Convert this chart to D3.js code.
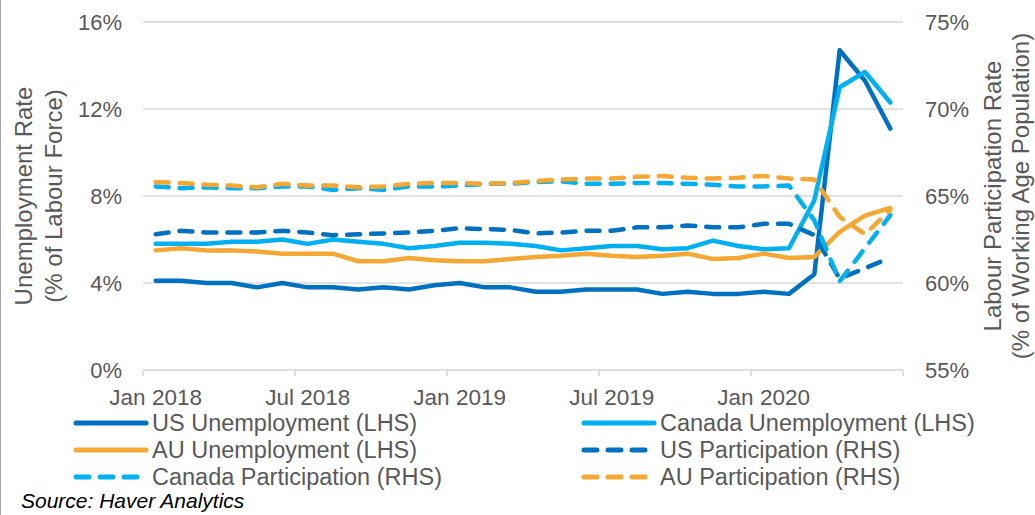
<!DOCTYPE html>
<html>
<head>
<meta charset="utf-8">
<script src="https://cdn.jsdelivr.net/npm/d3@7"></script>
<style>
  body { margin: 0; background: #fff; }
  text { font-family: "Liberation Sans", Arial, sans-serif; fill: #595959; }
</style>
</head>
<body>
<svg id="chart" width="1035" height="515"></svg>
<script>
// months on the category axis
var months = ["2018-01","2018-02","2018-03","2018-04","2018-05","2018-06","2018-07","2018-08","2018-09","2018-10","2018-11","2018-12",
              "2019-01","2019-02","2019-03","2019-04","2019-05","2019-06","2019-07","2019-08","2019-09","2019-10","2019-11","2019-12",
              "2020-01","2020-02","2020-03","2020-04","2020-05","2020-06"];
var tickMonths = ["2018-01","2018-07","2019-01","2019-07","2020-01"];
var tickLabels = ["Jan 2018","Jul 2018","Jan 2019","Jul 2019","Jan 2020"];
var leftTicks = [0, 4, 8, 12, 16];
var rightTicks = [55, 60, 65, 70, 75];

// unemployment (LHS, %)
var usUnemp = [4.1,4.1,4.0,4.0,3.8,4.0,3.8,3.8,3.7,3.8,3.7,3.9, 4.0,3.8,3.8,3.6,3.6,3.7,3.7,3.7,3.5,3.6,3.5,3.5, 3.6,3.5,4.4,14.7,13.3,11.1];
var caUnemp = [5.8,5.8,5.8,5.9,5.9,6.0,5.8,6.0,5.9,5.8,5.6,5.7, 5.85,5.85,5.8,5.7,5.5,5.6,5.7,5.7,5.55,5.6,5.95,5.7, 5.55,5.6,7.8,13.0,13.7,12.3];
var auUnemp = [5.5,5.6,5.5,5.5,5.45,5.35,5.35,5.35,5.0,5.0,5.15,5.05, 5.0,5.0,5.1,5.2,5.25,5.35,5.25,5.2,5.25,5.35,5.1,5.15, 5.35,5.15,5.2,6.35,7.1,7.45];
// participation (RHS, %)
var usPart = [62.8,63.0,62.9,62.9,62.9,63.0,62.9,62.75,62.8,62.85,62.9,63.0, 63.15,63.1,63.05,62.85,62.9,63.0,63.0,63.2,63.2,63.3,63.2,63.2, 63.4,63.4,62.75,60.25,60.85,61.45];
var caPart = [65.55,65.45,65.5,65.45,65.45,65.55,65.55,65.35,65.45,65.35,65.55,65.55, 65.6,65.7,65.7,65.8,65.85,65.7,65.7,65.75,65.75,65.7,65.65,65.55, 65.55,65.6,63.6,60.1,62.0,63.9];
var auPart = [65.8,65.75,65.65,65.6,65.5,65.7,65.6,65.6,65.5,65.55,65.7,65.75, 65.75,65.7,65.75,65.85,65.95,66.0,66.0,66.1,66.15,66.05,66.0,66.05, 66.15,66.0,65.95,63.8,62.8,64.2];

var seriesNames = ["US Unemployment (LHS)","Canada Unemployment (LHS)","AU Unemployment (LHS)",
                   "US Participation (RHS)","Canada Participation (RHS)","AU Participation (RHS)"];

var blue = "#0070c0", cyan = "#00b0f0", orange = "#f4a732";

var svg = d3.select("#chart");

var x = d3.scaleBand().domain(months).range([143, 903]).padding(0);
var yL = d3.scaleLinear().domain([0, 16]).range([370, 22]);
var yR = d3.scaleLinear().domain([55, 75]).range([370, 22]);
var cx = function(m) { return x(m) + x.bandwidth() / 2; };

// gridlines
svg.append("g").selectAll("line")
    .data(leftTicks.slice(1))
    .enter().append("line")
    .attr("x1", 143).attr("x2", 903)
    .attr("y1", function(d) { return yL(d); })
    .attr("y2", function(d) { return yL(d); })
    .attr("stroke", "#d9d9d9").attr("stroke-width", 1.5);

// x axis: ticks on category boundaries, labels centred on category
var xAxis = svg.append("g");
xAxis.append("line")
    .attr("x1", 143).attr("x2", 903).attr("y1", yL(0)).attr("y2", yL(0))
    .attr("stroke", "#d9d9d9").attr("stroke-width", 1.5);
var tickPos = tickMonths.map(function(m) { return x(m); }).concat([x.range()[1]]);
xAxis.selectAll(".tk").data(tickPos).enter().append("line")
    .attr("x1", function(d) { return d; }).attr("x2", function(d) { return d; })
    .attr("y1", yL(0)).attr("y2", yL(0) + 6)
    .attr("stroke", "#d9d9d9").attr("stroke-width", 1.5);
xAxis.selectAll("text").data(tickMonths).enter().append("text")
    .attr("x", function(d) { return cx(d); })
    .attr("y", 405)
    .attr("text-anchor", "middle")
    .style("font-size", "22.5px")
    .text(function(d, i) { return tickLabels[i]; });

// y axes labels
svg.append("g").selectAll("text").data(leftTicks).enter().append("text")
    .attr("x", 122).attr("y", function(d) { return yL(d); })
    .attr("dy", "0.35em").attr("text-anchor", "end")
    .style("font-size", "22px")
    .text(function(d) { return d + "%"; });

svg.append("g").selectAll("text").data(rightTicks).enter().append("text")
    .attr("x", 925).attr("y", function(d) { return yR(d); })
    .attr("dy", "0.35em").attr("text-anchor", "start")
    .style("font-size", "22px")
    .text(function(d) { return d + "%"; });

// axis titles
function vTitle(xpos, txt) {
    svg.append("text")
        .attr("transform", "translate(" + xpos + ",196) rotate(-90)")
        .attr("text-anchor", "middle")
        .style("font-size", "24px")
        .text(txt);
}
vTitle(32, "Unemployment Rate");
vTitle(62, "(% of Labour Force)");
vTitle(1001, "Labour Participation Rate");
vTitle(1029, "(% of Working Age Population)");

// lines
var series = [
    {name: seriesNames[0], values: usUnemp, y: yL, color: blue, dash: null},
    {name: seriesNames[1], values: caUnemp, y: yL, color: cyan, dash: null},
    {name: seriesNames[2], values: auUnemp, y: yL, color: orange, dash: null},
    {name: seriesNames[3], values: usPart, y: yR, color: blue, dash: "13,11"},
    {name: seriesNames[4], values: caPart, y: yR, color: cyan, dash: "13,11"},
    {name: seriesNames[5], values: auPart, y: yR, color: orange, dash: "13,11"}
];

series.forEach(function(s) {
    var line = d3.line()
        .x(function(d, i) { return cx(months[i]); })
        .y(function(d) { return s.y(d); });
    svg.append("path")
        .datum(s.values)
        .attr("d", line)
        .attr("fill", "none")
        .attr("stroke", s.color)
        .attr("stroke-width", 4.5)
        .attr("stroke-linejoin", "round")
        .attr("stroke-linecap", "round")
        .attr("stroke-dasharray", s.dash);
});

// legend, 2 columns x 3 rows
var legendCols = [76, 584];
var legendRows = [423, 450, 477];
var leg = svg.append("g").selectAll("g").data(series).enter().append("g")
    .attr("transform", function(d, i) {
        return "translate(" + legendCols[i % 2] + "," + legendRows[Math.floor(i / 2)] + ")";
    });
leg.append("line")
    .attr("x1", 0).attr("x2", 70).attr("y1", 0).attr("y2", 0)
    .attr("stroke", function(d) { return d.color; })
    .attr("stroke-width", 5)
    .attr("stroke-linecap", "round")
    .attr("stroke-dasharray", function(d) { return d.dash; });
leg.append("text")
    .attr("x", 76).attr("dy", "0.35em")
    .style("font-size", "23.5px")
    .text(function(d) { return d.name; });

// source note
svg.append("text")
    .attr("x", 21).attr("y", 508)
    .style("font-size", "21px")
    .style("font-style", "italic")
    .style("fill", "#000")
    .text("Source: Haver Analytics");

// left frame edge
svg.append("line").attr("x1", 0.5).attr("x2", 0.5).attr("y1", 0).attr("y2", 515)
    .attr("stroke", "#a6a6a6").attr("stroke-width", 1);
</script>
</body>
</html>
